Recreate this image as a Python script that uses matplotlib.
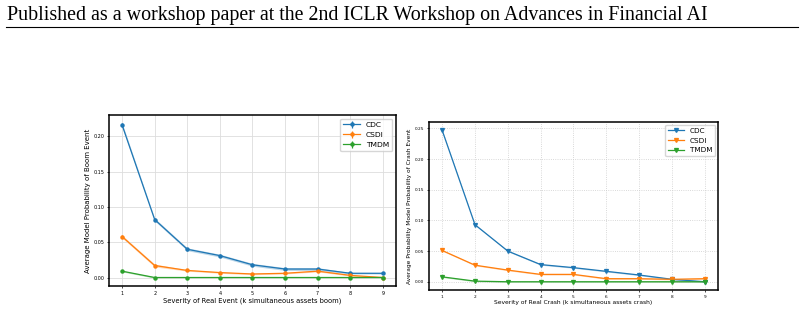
import matplotlib.pyplot as plt
import numpy as np

severity = [1, 2, 3, 4, 5, 6, 7, 8, 9]
models = ["CDC", "CSDI", "TMDM"]
colors = ["#1f77b4", "#ff7f0e", "#2ca02c"]

# boom event probabilities (left panel)
boom_mean = {
    "CDC": [0.216, 0.082, 0.040, 0.031, 0.018, 0.012, 0.012, 0.006, 0.006],
    "CSDI": [0.058, 0.017, 0.010, 0.007, 0.005, 0.006, 0.009, 0.003, 0.000],
    "TMDM": [0.009, 0.000, 0.000, 0.000, 0.000, 0.000, 0.000, 0.000, 0.000],
}
boom_std = {
    "CDC": [0.003, 0.002, 0.002, 0.002, 0.002, 0.002, 0.002, 0.001, 0.001],
    "CSDI": [0.002, 0.002, 0.001, 0.001, 0.001, 0.001, 0.001, 0.001, 0.001],
    "TMDM": [0.001, 0.001, 0.001, 0.001, 0.001, 0.001, 0.001, 0.001, 0.001],
}

# crash event probabilities (right panel)
crash_mean = {
    "CDC": [0.247, 0.093, 0.050, 0.028, 0.023, 0.017, 0.011, 0.004, 0.000],
    "CSDI": [0.051, 0.027, 0.019, 0.012, 0.012, 0.005, 0.005, 0.004, 0.005],
    "TMDM": [0.008, 0.001, 0.000, 0.000, 0.000, 0.000, 0.000, 0.000, 0.000],
}
crash_std = {
    "CDC": [0.001, 0.001, 0.001, 0.001, 0.001, 0.001, 0.001, 0.001, 0.001],
    "CSDI": [0.001, 0.001, 0.001, 0.001, 0.001, 0.001, 0.001, 0.001, 0.001],
    "TMDM": [0.001, 0.001, 0.001, 0.001, 0.001, 0.001, 0.001, 0.001, 0.001],
}

fig = plt.figure(figsize=(8.04, 3.11), dpi=100)

# page header
fig.text(0.009, 0.935, "Published as a workshop paper at the 2nd ICLR Workshop on Advances in Financial AI",
         family="Liberation Serif", fontsize=14.4, va="baseline")
fig.add_artist(plt.Line2D([0.008, 0.992], [0.913, 0.913], color="black", lw=0.8))

ax1 = fig.add_axes([0.1356, 0.0804, 0.3569, 0.5498])
ax2 = fig.add_axes([0.5336, 0.0675, 0.3594, 0.5402])

for m, c in zip(models, colors):
    y = np.array(boom_mean[m])
    s = np.array(boom_std[m])
    ax1.errorbar(severity, y, yerr=s, marker="o", markersize=2.2, color=c, lw=0.9,
                 elinewidth=0.9, capsize=0, label=m)
    ax1.fill_between(severity, y - s, y + s, color=c, alpha=0.3, lw=0)

    y = np.array(crash_mean[m])
    s = np.array(crash_std[m])
    ax2.plot(severity, y, marker="v", markersize=2.8, color=c, lw=0.9, label=m)
    ax2.fill_between(severity, y - s, y + s, color=c, alpha=0.3, lw=0)

ax1.set_xticks(severity)
ax1.set_yticks([0.0, 0.05, 0.10, 0.15, 0.20])
ax1.grid(True, color="#dddddd", lw=0.6)
ax1.set_xlabel("Severity of Real Event (k simultaneous assets boom)", fontsize=4.9, labelpad=1)
ax1.set_ylabel("Average Model Probability of Boom Event", fontsize=5.0, labelpad=2)
ax1.tick_params(labelsize=3.5, length=1.5, width=0.5, pad=2)
ax1.legend(fontsize=5.4, loc="upper right", borderaxespad=0.5, handlelength=2.2)

ax2.set_xticks(severity)
ax2.set_yticks([0.0, 0.05, 0.10, 0.15, 0.20, 0.25])
ax2.grid(True, color="#cccccc", lw=0.6, ls=":")
ax2.set_xlabel("Severity of Real Crash (k simultaneous assets crash)", fontsize=4.3, labelpad=1)
ax2.set_ylabel("Average Probability Model Probability of Crash Event", fontsize=4.2, labelpad=2)
ax2.tick_params(labelsize=3.1, length=1.5, width=0.5, pad=2)
ax2.legend(fontsize=5.2, loc="upper right", borderaxespad=0.4, handlelength=2.2)

for ax in (ax1, ax2):
    for sp in ax.spines.values():
        sp.set_linewidth(1.1)

fig.savefig("out.png", dpi=100)
